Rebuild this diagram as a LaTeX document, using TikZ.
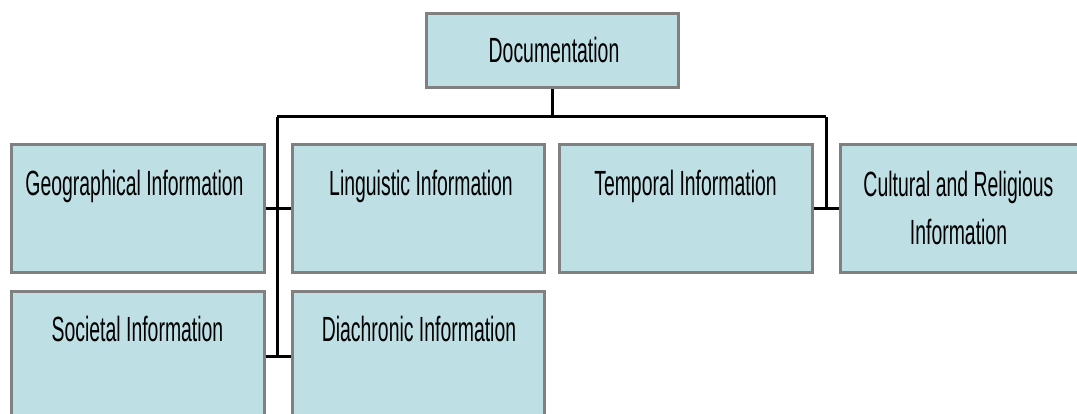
\documentclass[tikz,border=0pt]{standalone}
\usepackage{fontspec}
\setmainfont[FakeStretch=0.555]{Liberation Sans}
\usetikzlibrary{calc}
\definecolor{boxfill}{RGB}{190,224,228}
\definecolor{boxline}{RGB}{128,128,128}
\tikzset{
  infobox/.style={draw=boxline, fill=boxfill, line width=3pt, rectangle, inner sep=0pt},
  lbl/.style={anchor=base, inner sep=0pt, font=\fontsize{35}{48}\selectfont, align=center},
  conn/.style={draw=black, line width=3pt}
}
\begin{document}
\begin{tikzpicture}[x=1pt,y=-1pt]
\useasboundingbox (0,0) rectangle (1077,414);
\clip (0,0) rectangle (1077,414);
% boxes
\node[infobox, minimum width=252pt, minimum height=74pt] (doc) at (552,51) {};
\node[infobox, minimum width=253pt, minimum height=128pt] (geo) at (137.5,209) {};
\node[infobox, minimum width=252pt, minimum height=128pt] (ling) at (418,209) {};
\node[infobox, minimum width=253pt, minimum height=128pt] (temp) at (685.5,209) {};
\node[infobox, minimum width=252pt, minimum height=128pt] (cult) at (966,209) {};
\node[infobox, minimum width=253pt, minimum height=140pt] (soc) at (137.5,362) {};
\node[infobox, minimum width=252pt, minimum height=140pt] (diach) at (418,362) {};
% labels
\node[lbl] (tdoc) at ($(doc.north)+(2,50)$) {Documentation};
\node[lbl] (tgeo) at ($(geo.north)+(-3,52)$) {Geographical Information};
\node[lbl] (tling) at ($(ling.north)+(3,52)$) {Linguistic Information};
\node[lbl] (ttemp) at ($(temp.north)+(0,52)$) {Temporal Information};
\node[lbl] (tcult) at (958.5,197) {Cultural and Religious};
\node[lbl] (tcult2) at (958.5,245) {Information};
\node[lbl] (tsoc) at ($(soc.north)+(0,51)$) {Societal Information};
\node[lbl] (tdiach) at ($(diach.north)+(1,51)$) {Diachronic Information};
% connectors
\coordinate (busL) at (277,117);
\coordinate (busR) at (826,117);
\coordinate (busM) at (doc.south |- busL);
\coordinate (jsoc) at (busL |- 0,356);
\coordinate (jcult) at (busR |- cult.west);
\draw[conn] (doc.south) -- (busM);
\draw[conn] (busL) -- (busR);
\draw[conn] (busL) -- (jsoc);
\draw[conn] (busR) -- (jcult);
\draw[conn] (geo.east) -- (ling.west);
\draw[conn] (soc.east |- jsoc) -- (diach.west |- jsoc);
\draw[conn] (temp.east) -- (cult.west);
\end{tikzpicture}
\end{document}
